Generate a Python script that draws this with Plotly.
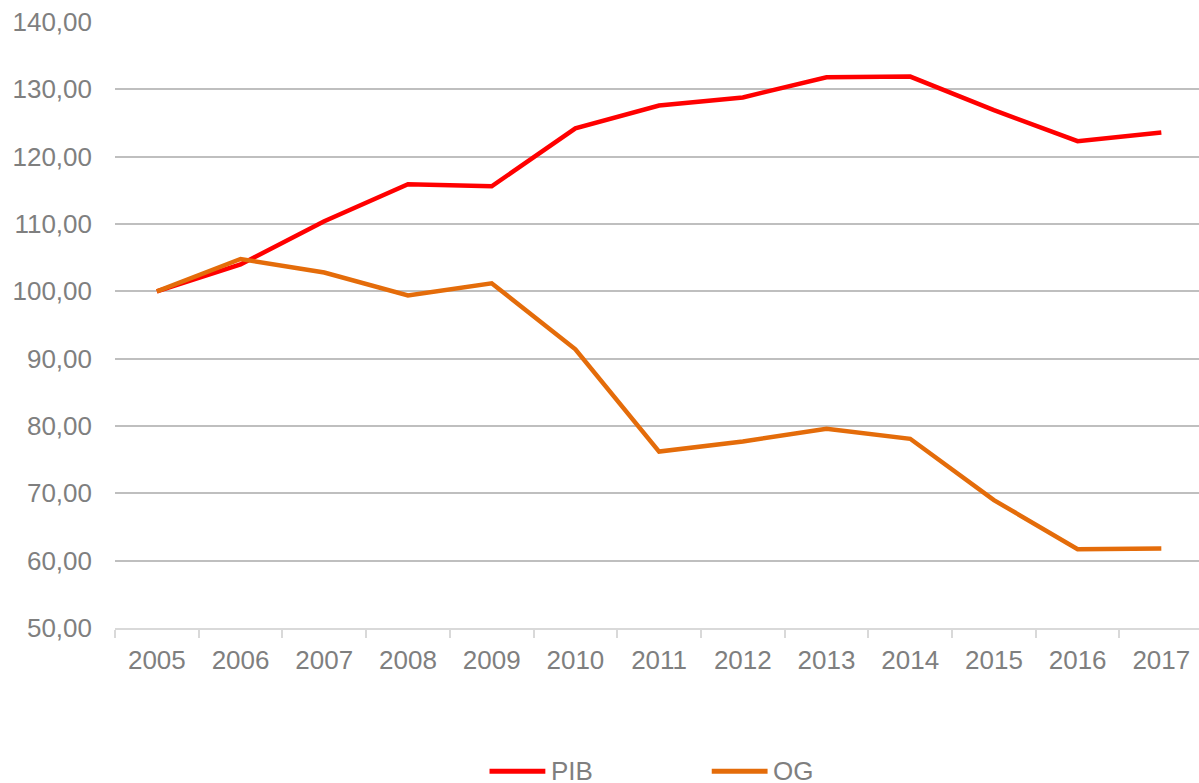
import plotly.graph_objects as go

years = ["2005", "2006", "2007", "2008", "2009", "2010", "2011", "2012", "2013", "2014", "2015", "2016", "2017"]
pib = [100.0, 104.0, 110.4, 115.9, 115.6, 124.2, 127.6, 128.8, 131.8, 131.9, 126.9, 122.3, 123.6]
og = [100.0, 104.8, 102.8, 99.4, 101.2, 91.4, 76.2, 77.7, 79.6, 78.1, 69.0, 61.7, 61.8]
series_names = ["PIB", "OG"]
series_colors = ["#FF0000", "#E46C0A"]
y_ticks = [50, 60, 70, 80, 90, 100, 110, 120, 130, 140]

FONT = "Liberation Sans, Arial, sans-serif"
GRAY = "#7F7F7F"

fig = go.Figure()
for name, vals, col in zip(series_names, [pib, og], series_colors):
    fig.add_trace(go.Scatter(x=years, y=vals, mode="lines", name=name,
                             line=dict(color=col, width=4.5), showlegend=False))

# manual legend at bottom
leg_x = [0.3455, 0.5505]  # paper coords of line start
for i, (name, col) in enumerate(zip(series_names, series_colors)):
    x0 = leg_x[i]
    fig.add_shape(type="line", xref="paper", yref="paper",
                  x0=x0, x1=x0 + 0.0515, y0=-0.2365, y1=-0.2365,
                  line=dict(color=col, width=5))
    fig.add_annotation(xref="paper", yref="paper", x=x0 + 0.0545, y=-0.2365,
                       text=name, showarrow=False, xanchor="left", yanchor="middle",
                       font=dict(family=FONT, size=26, color=GRAY))

fig.update_layout(
    width=1199, height=783,
    margin=dict(l=115, r=0, t=22, b=155),
    paper_bgcolor="white", plot_bgcolor="white",
    separators=", ",
    font=dict(family=FONT, size=26, color=GRAY),
    showlegend=False,
)
fig.update_xaxes(
    type="category", range=[-0.5, 12.45],
    showgrid=False, showline=True, linecolor="#D9D9D9", linewidth=2,
    ticks="outside", tickson="boundaries", ticklen=8, tickcolor="#D9D9D9", tickwidth=2,
    tickfont=dict(family=FONT, size=26, color=GRAY), ticklabelstandoff=8,
)
fig.update_yaxes(
    range=[50, 140], tickvals=y_ticks, tickformat=".2f",
    showgrid=True, gridcolor="#BFBFBF", gridwidth=1.5,
    showline=False, zeroline=False, ticks="",
    tickfont=dict(family=FONT, size=26, color=GRAY), ticklabelstandoff=22,
)

fig.write_html("out.html", config={"displayModeBar": False},
               post_script="document.body.style.margin='0';document.body.style.overflow='hidden';")
